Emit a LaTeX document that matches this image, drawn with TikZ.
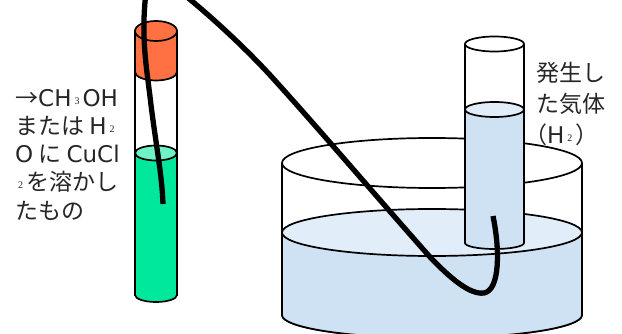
\documentclass[tikz,border=0pt]{standalone}
\usepackage{fontspec}
\setmainfont{Noto Sans CJK JP}
\newfontfamily\subfont{Liberation Serif}
\newfontfamily\latinfont{DejaVu Sans}
\definecolor{stopper}{HTML}{FF7043}
\definecolor{reagent}{HTML}{00E89C}
\definecolor{reagenttop}{HTML}{6FF3C6}
\definecolor{water}{HTML}{CFE2F3}
\definecolor{watertop}{HTML}{E1EDF8}
\definecolor{ink}{HTML}{262626}
\newcommand{\subnum}[1]{\kern3pt\raisebox{2pt}{\subfont\fontsize{10}{10}\selectfont #1}\kern3pt}
\newcommand{\lat}[1]{{\latinfont #1}}
\tikzset{
  glass/.style={draw=black, line width=1.7pt},
  tubing/.style={draw=black, line width=5.3pt},
  note/.style={inner sep=0pt, anchor=north west, align=left, text=ink,
    font=\fontsize{23}{28.2}\selectfont}
}

\begin{document}
\begin{tikzpicture}[x=1pt, y=-1pt]
  \clip (0,0) rectangle (622,334);
  % basin
  \draw[glass, fill=white] (282,163) -- (282,315) arc[start angle=180, end angle=0, x radius=150, y radius=23] -- (582,163);
  \draw[glass] (432,163) ellipse[x radius=150, y radius=25];
  \draw[glass, fill=water] (282,232) -- (282,315) arc[start angle=180, end angle=0, x radius=150, y radius=23] -- (582,232) -- cycle;
  \draw[glass, fill=watertop] (432,232.5) ellipse[x radius=150, y radius=23.5];
  % collecting tube
  \draw[glass, fill=white] (465,44) -- (465,109) -- (524,109) -- (524,44);
  \draw[glass, fill=white] (494.5,44) ellipse[x radius=29.5, y radius=7.5];
  \draw[glass, fill=water] (465,109) -- (465,243) arc[start angle=180, end angle=360, x radius=29.5, y radius=-6] -- (524,109) -- cycle;
  \draw[glass, fill=watertop] (494.5,109.5) ellipse[x radius=29.5, y radius=7.5];
  % reaction tube
  \draw[glass, fill=white] (135,31) -- (135,295) -- (177,295) -- (177,31);
  \draw[glass, fill=reagent] (135,153) -- (135,295) arc[start angle=180, end angle=360, x radius=21, y radius=-7] -- (177,153) -- cycle;
  \draw[glass, fill=reagenttop] (156,153) ellipse[x radius=21, y radius=7.5];
  \draw[glass, fill=stopper] (135,31) -- (135,72) arc[start angle=180, end angle=360, x radius=21, y radius=-8.5] -- (177,31) -- cycle;
  \draw[glass, fill=stopper] (156,31) ellipse[x radius=21, y radius=10];
  % tubing
  \draw[tubing] (145.5,-3) .. controls (141,40) and (147,70) .. (151,105) .. controls (156,145) and (162,175) .. (163,204);
  \draw[tubing] (187,-3) .. controls (215,20) and (245,48) .. (270,75)
    .. controls (320,130) and (375,195) .. (430,257)
    .. controls (450,278) and (470,295) .. (484,293)
    .. controls (500,290) and (500,250) .. (493,216);
  % labels
  \node[note] (solution) at (15,89) {→\lat{CH}\subnum{3}\lat{OH}\\または \lat{H}\subnum{2}\\\lat{O} に \lat{CuCl}\\\subnum{2}を溶かし\\たもの};
  \node[note, font=\fontsize{23}{30.8}\selectfont] (gas) at (536,62) {発生し\\た気体\\\kern-12pt（\lat{H}\subnum{2}）};
\end{tikzpicture}
\end{document}
